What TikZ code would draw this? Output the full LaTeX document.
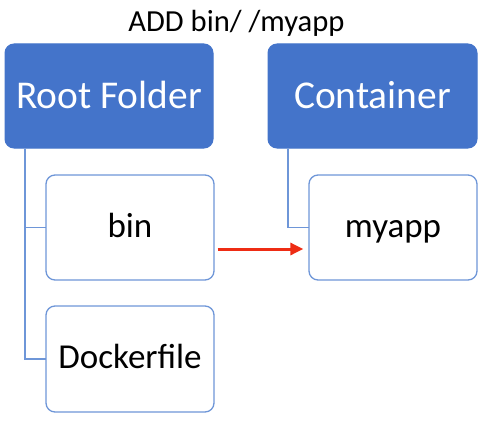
\documentclass[tikz,border=0pt]{standalone}
\usepackage{fontspec}
\setmainfont{Carlito}
\usetikzlibrary{arrows.meta}
\definecolor{hdrblue}{RGB}{68,116,202}
\definecolor{lineblue}{RGB}{110,150,216}
\definecolor{arrred}{RGB}{238,44,20}
\tikzset{
  hdrbox/.style={draw=hdrblue, fill=hdrblue, rounded corners=9pt, line width=1pt,
    text=white, font=\fontsize{39.4}{44}\selectfont, inner sep=0pt,
    text height=24pt, text depth=0pt, minimum height=104pt},
  itembox/.style={draw=lineblue, fill=white, rounded corners=9pt, line width=1.3pt,
    text=black, font=\fontsize{35}{40}\selectfont, inner sep=0pt,
    text height=19pt, text depth=0pt, minimum width=168pt, minimum height=105pt},
  conn/.style={draw=lineblue, line width=1.3pt},
  redarrow/.style={draw=arrred, line width=3pt, -{Triangle[length=13pt,width=12pt]}},
  titletext/.style={font=\fontsize{30.6}{34}\selectfont, text=black, anchor=base, inner sep=0pt}
}
\begin{document}
\begin{tikzpicture}[x=1pt,y=-1pt]
\useasboundingbox (0,0) rectangle (500,420);
\node[titletext] (title) at (236.5,32) {ADD bin/ /myapp};
\node[hdrbox, minimum width=208pt] (root) at (109,96) {Root Folder};
\node[hdrbox, minimum width=209pt] (cont) at (372.5,96) {Container};
\coordinate (tL) at (25,0);
\coordinate (tR) at (288,0);
\draw[conn] (root.south -| tL) |- (130,227.5);
\draw[conn] (root.south -| tL) |- (130,359);
\draw[conn] (cont.south -| tR) |- (393,227.5);
\node[itembox] (bin) at (130,227.5) {bin};
\node[itembox, minimum height=106pt] (docker) at (130,359) {Dockerfile};
\node[itembox] (myapp) at (393,227.5) {myapp};
\draw[redarrow] ([shift={(3,21.5)}]bin.east) -- ([shift={(-5,21.5)}]myapp.west);
\end{tikzpicture}
\end{document}
